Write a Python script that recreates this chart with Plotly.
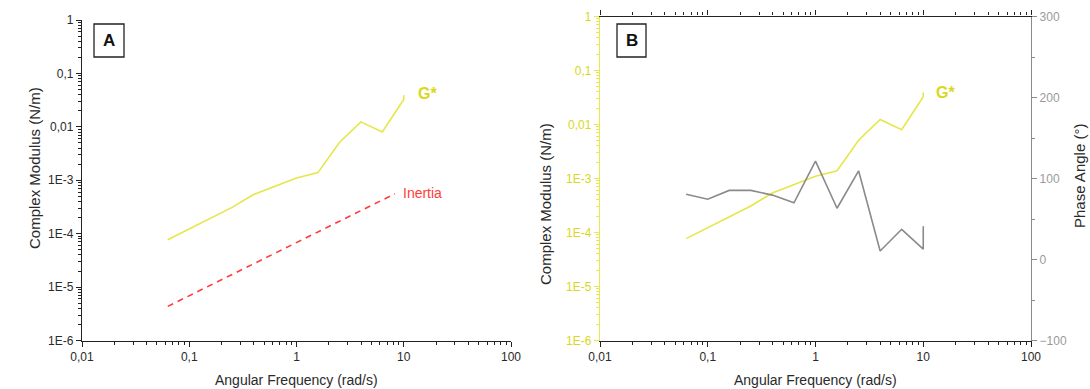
import plotly.graph_objects as go

# ---- data ----
freq = [0.063, 0.1, 0.158, 0.251, 0.398, 0.631, 1.0, 1.585, 2.512, 3.981, 6.31, 10.0, 10.0]
g_star = [7.7e-5, 1.22e-4, 1.95e-4, 3.1e-4, 5.4e-4, 7.7e-4, 1.1e-3, 1.39e-3, 5.1e-3, 0.0124, 0.0080, 0.0326, 0.039]
phase = [80.5, 74.5, 85.3, 85.3, 79.5, 70.0, 121.5, 63.3, 109.5, 10.5, 37.3, 12.8, 41.2]
inertia_freq = [0.063, 8.3]
inertia = [4.35e-6, 5.6e-4]

x_tick_vals = [0.01, 0.1, 1, 10, 100]
x_tick_text = ["0,01", "0,1", "1", "10", "100"]
y_tick_vals = [1e-6, 1e-5, 1e-4, 1e-3, 0.01, 0.1, 1]
y_tick_text = ["1E-6", "1E-5", "1E-4", "1E-3", "0,01", "0,1", "1"]
phase_ticks = [-100, 0, 100, 200, 300]

FONT = "Liberation Sans, Arial, sans-serif"
YEL_LINE = "#e6e64a"
YEL_TEXT = "#d8d820"
YEL_AXIS = "#e8e84a"
GRAY = "#8a8a8a"
RED = "#ff3b3b"
DARK = "#222222"
TXT = "#2a2a2a"

def minor_vals(lo, hi):
    vals = []
    for e in range(lo, hi):
        for k in range(2, 10):
            vals.append(k * 10 ** e)
    return vals

W, H = 1090, 389
fig = go.Figure()

# Panel A
fig.add_trace(go.Scatter(x=freq, y=g_star, mode="lines", line=dict(color=YEL_LINE, width=1.6),
                         xaxis="x", yaxis="y", showlegend=False))
fig.add_trace(go.Scatter(x=inertia_freq, y=inertia, mode="lines",
                         line=dict(color=RED, width=1.6, dash="6px,5px"),
                         xaxis="x", yaxis="y", showlegend=False))
# Panel B
fig.add_trace(go.Scatter(x=freq, y=g_star, mode="lines", line=dict(color=YEL_LINE, width=1.6),
                         xaxis="x2", yaxis="y2", showlegend=False))
fig.add_trace(go.Scatter(x=freq, y=phase, mode="lines", line=dict(color=GRAY, width=1.6),
                         xaxis="x2", yaxis="y3", showlegend=False))

def xaxis_cfg(domain, anchor, mirror=False):
    return dict(type="log", range=[-2, 2], domain=domain, anchor=anchor, automargin=False,
                tickmode="array", tickvals=x_tick_vals, ticktext=x_tick_text,
                ticks="outside", ticklen=5, tickwidth=1.2, tickcolor=DARK,
                showline=True, linecolor=DARK, linewidth=1.3, mirror=mirror,
                showgrid=False, zeroline=False,
                tickfont=dict(family=FONT, size=12, color=TXT),
                minor=dict(tickmode="array", tickvals=minor_vals(-2, 2), ticks="outside",
                           ticklen=3, tickwidth=1, tickcolor=DARK, showgrid=False))

def yaxis_cfg(domain, anchor, color, tcolor):
    return dict(type="log", range=[-6, 0], domain=domain, anchor=anchor, automargin=False,
                tickmode="array", tickvals=y_tick_vals, ticktext=y_tick_text,
                ticks="outside", ticklen=5, tickwidth=1.2, tickcolor=color,
                showline=True, linecolor=color, linewidth=1.3,
                showgrid=False, zeroline=False,
                tickfont=dict(family=FONT, size=12, color=tcolor),
                minor=dict(tickmode="array", tickvals=minor_vals(-6, 0), ticks="outside",
                           ticklen=3, tickwidth=1, tickcolor=color, showgrid=False))

xa = [82 / W, 511 / W]
xb = [600 / W, 1031 / W]
ya = [(H - 340.5) / H, (H - 20) / H]
yb = [(H - 340.5) / H, (H - 16.5) / H]

fig.update_layout(
    width=W, height=H,
    margin=dict(l=0, r=0, t=0, b=0),
    paper_bgcolor="white", plot_bgcolor="white",
    font=dict(family=FONT, color=TXT),
    xaxis=xaxis_cfg(xa, "y"),
    yaxis=yaxis_cfg(ya, "x", DARK, TXT),
    xaxis2=xaxis_cfg(xb, "y2", "ticks"),
    yaxis2=yaxis_cfg(yb, "x2", YEL_AXIS, YEL_TEXT),
    yaxis3=dict(range=[-100, 300], overlaying="y2", anchor="x2", side="right", automargin=False,
                tickmode="array", tickvals=phase_ticks,
                ticks="outside", ticklen=5, tickwidth=1.2, tickcolor=GRAY,
                showline=True, linecolor=GRAY, linewidth=1.3,
                showgrid=False, zeroline=False,
                tickfont=dict(family=FONT, size=12, color="#9a9a9a"),
                minor=dict(dtick=50, ticks="outside", ticklen=3, tickcolor=GRAY, showgrid=False)),
)

def label(x, y, text, size=14, color=TXT, angle=0, xanchor="center"):
    fig.add_annotation(xref="paper", yref="paper", x=x / W, y=(H - y) / H, text=text,
                       showarrow=False, textangle=angle,
                       font=dict(family=FONT, size=size, color=color),
                       xanchor=xanchor, yanchor="middle")

# axis titles
label(296.5, 380, "Angular Frequency (rad/s)", 14)
label(815.5, 380, "Angular Frequency (rad/s)", 14)
label(34, 168, "Complex Modulus (N/m)", 15, angle=-90)
label(545, 204, "Complex Modulus (N/m)", 15, angle=-90)
label(1079, 176, "Phase Angle (°)", 15, angle=-90)

# panel letters in boxes
for letter, x0, x1 in [("A", 94, 124), ("B", 617, 646)]:
    fig.add_shape(type="rect", xref="paper", yref="paper",
                  x0=x0 / W, x1=x1 / W, y0=(H - 57) / H, y1=(H - 24) / H,
                  line=dict(color=DARK, width=1.3), fillcolor="white")
    label((x0 + x1) / 2, 40.5, "<b>%s</b>" % letter, 17, "#111111")

# series labels
label(427, 93, "<b>G*</b>", 16, YEL_TEXT)
label(945, 92, "<b>G*</b>", 16, YEL_TEXT)
label(401, 193, "Inertia", 14, RED, xanchor="left")

fig.write_html("out.html", config={"displayModeBar": False},
               post_script="document.body.style.margin='0';document.body.style.overflow='hidden';")
